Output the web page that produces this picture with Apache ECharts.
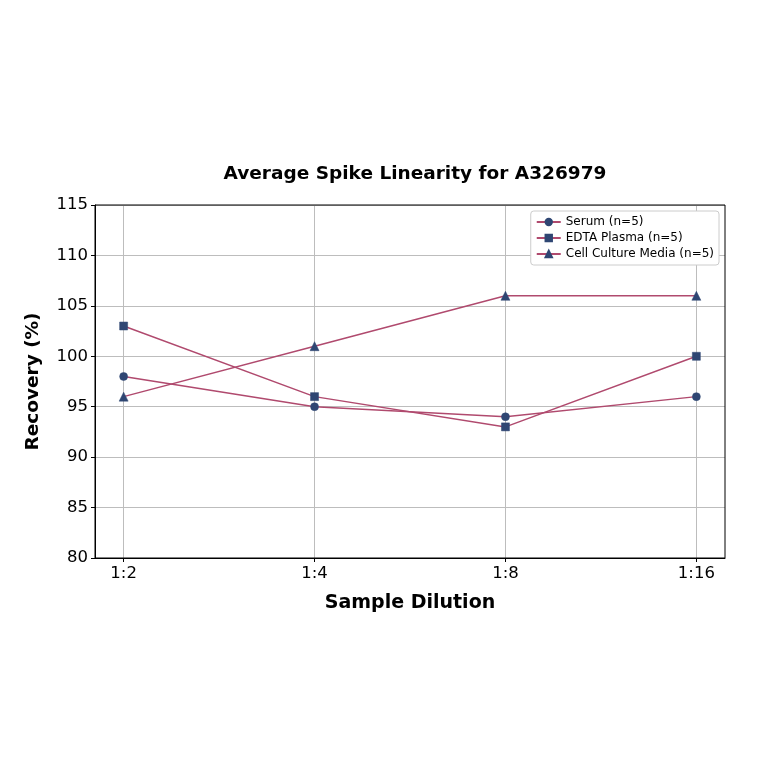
<!DOCTYPE html>
<html>
<head>
<meta charset="utf-8">
<script src="https://cdn.jsdelivr.net/npm/echarts@6/dist/echarts.min.js"></script>
<style>
  html, body { margin: 0; padding: 0; background: #fff; }
  #chart { width: 764px; height: 764px; }
</style>
</head>
<body>
<div id="chart"></div>
<script>
let dilutions = ['1:2', '1:4', '1:8', '1:16'];
let serum = [98, 95, 94, 96];
let edtaPlasma = [103, 96, 93, 100];
let cellCulture = [96, 101, 106, 106];
let yTicks = [80, 85, 90, 95, 100, 105, 110, 115];

let lineColor = '#b04a6e';
let markerColor = '#2f4673';
let font = 'DejaVu Sans';

function makeSeries(name, values, symbol, size) {
  return {
    name: name,
    type: 'line',
    data: values.map(function (v, i) { return [i, v]; }),
    symbol: symbol,
    symbolSize: size,
    lineStyle: { color: lineColor, width: 1.5 },
    itemStyle: { color: markerColor, borderColor: markerColor, borderWidth: 0.5 },
    emphasis: { disabled: true },
    z: 3
  };
}

let option = {
  animation: false,
  backgroundColor: '#fff',
  textStyle: { fontFamily: font },
  title: {
    text: 'Average Spike Linearity for A326979',
    left: 410, top: 160, textAlign: 'center',
    textStyle: { fontFamily: font, fontSize: 18.5, fontWeight: 'bold', color: '#000' }
  },
  legend: {
    orient: 'vertical',
    right: 45, top: 211,
    itemWidth: 24, itemHeight: 8, itemGap: 4,
    padding: [5, 5, 5, 5],
    backgroundColor: '#fff',
    borderColor: '#ccc', borderWidth: 1, borderRadius: 3,
    textStyle: { fontFamily: font, fontSize: 12, color: '#000' },
    data: ['Serum (n=5)', 'EDTA Plasma (n=5)', 'Cell Culture Media (n=5)']
  },
  grid: { left: 95, right: 39, top: 205, bottom: 206 },
  xAxis: {
    type: 'value',
    min: -0.15, max: 3.15,
    name: 'Sample Dilution',
    nameLocation: 'middle', nameGap: 36,
    nameTextStyle: { fontFamily: font, fontSize: 19, fontWeight: 'bold', color: '#000' },
    axisLine: { onZero: false, lineStyle: { color: '#000', width: 1 } },
    axisTick: { show: true, customValues: [0, 1, 2, 3], length: 4, lineStyle: { color: '#000' } },
    axisLabel: {
      customValues: [0, 1, 2, 3],
      formatter: function (v) { return dilutions[Math.round(v)]; },
      fontFamily: font, fontSize: 16.5, color: '#000', margin: 7
    },
    splitLine: { show: true, lineStyle: { color: '#bdbdbd', width: 1 } }
  },
  yAxis: {
    type: 'value',
    min: 80, max: 115, interval: 5,
    name: 'Recovery (%)',
    nameLocation: 'middle', nameGap: 52,
    nameTextStyle: { fontFamily: font, fontSize: 18.5, fontWeight: 'bold', color: '#000' },
    axisLine: { show: true, onZero: false, lineStyle: { color: '#000', width: 1 } },
    axisTick: { show: true, length: 4, lineStyle: { color: '#000' } },
    axisLabel: {
      formatter: function (v) { return yTicks.indexOf(v) >= 0 ? String(v) : ''; },
      fontFamily: font, fontSize: 16.5, color: '#000', margin: 7
    },
    splitLine: { show: true, lineStyle: { color: '#bdbdbd', width: 1 } }
  },
  series: [
    makeSeries('Serum (n=5)', serum, 'circle', 8),
    makeSeries('EDTA Plasma (n=5)', edtaPlasma, 'rect', 8),
    makeSeries('Cell Culture Media (n=5)', cellCulture, 'triangle', 9)
  ],
  graphic: [{
    type: 'rect',
    shape: { x: 95, y: 205, width: 630, height: 353 },
    style: { fill: 'none', stroke: '#000', lineWidth: 1 },
    silent: true, z: 10
  }]
};

let chart = echarts.init(document.getElementById('chart'));
chart.setOption(option);
</script>
</body>
</html>
